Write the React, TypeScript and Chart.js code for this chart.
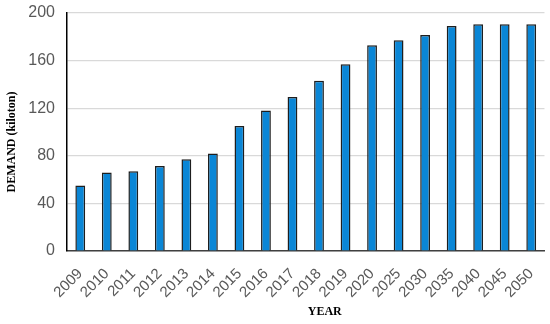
import React, { useEffect, useRef } from "react";
import { Chart, registerables } from "chart.js";

Chart.register(...registerables);

const years = ["2009","2010","2011","2012","2013","2014","2015","2016","2017","2018","2019","2020","2025","2030","2035","2040","2045","2050"];
const demand = [55, 66, 67, 71.5, 77, 82, 105, 118, 129.5, 143, 157, 173, 177, 181.5, 189, 190.5, 190.5, 190.5];
const yTicks = [0, 40, 80, 120, 160, 200];
const xTitle = "YEAR";
const yTitle = "DEMAND (kiloton)";

const titleFont = "bold 12px 'Liberation Serif', 'Times New Roman', serif";

const titlePlugin = {
  id: "offsetTitles",
  afterDraw(chart: any) {
    const ctx = chart.ctx;
    const a = chart.chartArea;
    ctx.save();
    ctx.fillStyle = "#000";
    ctx.font = titleFont;
    ctx.textAlign = "center";
    ctx.textBaseline = "middle";
    ctx.fillText(xTitle, (a.left + a.right) / 2 + 19, chart.height - 12);
    ctx.translate(12, (a.top + a.bottom) / 2 + 10);
    ctx.rotate(-Math.PI / 2);
    ctx.fillText(yTitle, 0, 0);
    ctx.restore();
  },
};

export default function App() {
  const ref = useRef<HTMLCanvasElement>(null);
  useEffect(() => {
    document.body.style.margin = "0";
    const chart = new Chart(ref.current!, {
      type: "bar",
      data: {
        labels: years,
        datasets: [{
          data: demand,
          backgroundColor: "#0a86d6",
          borderColor: "#1e1e1e",
          borderWidth: 1.5,
          barPercentage: 0.37,
          categoryPercentage: 1,
        }],
      },
      plugins: [titlePlugin],
      options: {
        animation: false,
        responsive: false,
        maintainAspectRatio: false,
        layout: { padding: { left: 2, right: 2, top: 0, bottom: 0 } },
        plugins: { legend: { display: false }, tooltip: { enabled: false } },
        scales: {
          x: {
            grid: { display: false },
            border: { display: true, color: "#404040", width: 1.5 },
            afterFit: (axis: any) => { axis.height = 73; },
            ticks: {
              color: "#595959",
              font: { family: "Liberation Sans, Arial", size: 15 },
              maxRotation: 45,
              minRotation: 45,
              autoSkip: false,
              padding: 6,
            },
            title: { display: false },
          },
          y: {
            min: 0,
            max: 200,
            afterBuildTicks: (axis: any) => { axis.ticks = yTicks.map((v) => ({ value: v })); },
            afterFit: (axis: any) => { axis.paddingTop = 13; axis.width = 65; },
            grid: { color: "#d9d9d9", lineWidth: 1.2, drawTicks: false },
            border: { display: true, color: "#000", width: 1.5 },
            ticks: {
              color: "#595959",
              font: { family: "Liberation Sans, Arial", size: 16 },
              padding: 12,
            },
            title: { display: false },
          },
        },
      },
    });
    return () => chart.destroy();
  }, []);
  return <canvas ref={ref} width={550} height={324} style={{ display: "block", width: 550, height: 324 }} />;
}
